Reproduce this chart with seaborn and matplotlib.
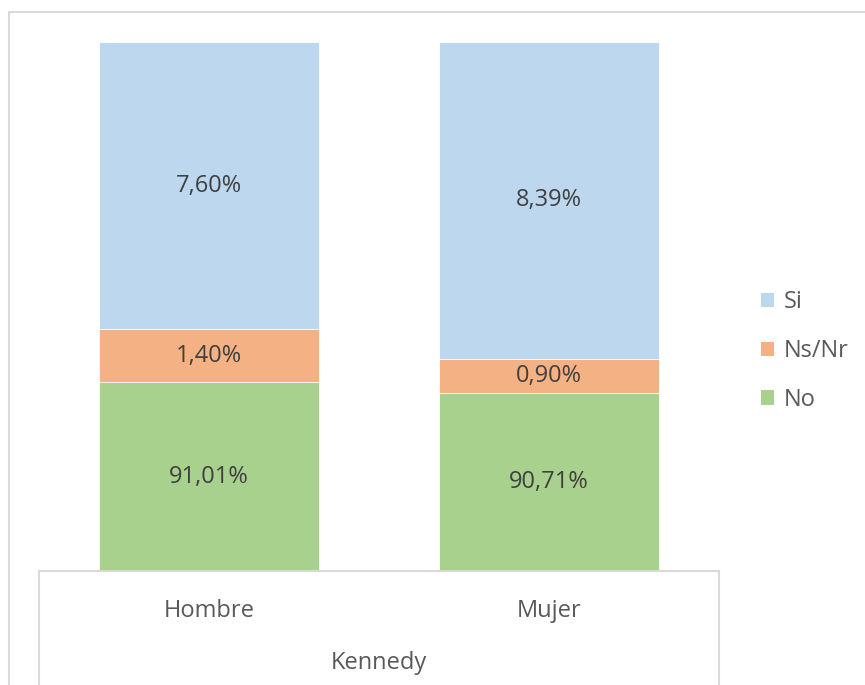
import numpy as np
import pandas as pd
import seaborn as sns
import matplotlib.pyplot as plt
from matplotlib.patches import Patch
from matplotlib.lines import Line2D

# Bar segment heights (share of the bar, %) as drawn, and the labels shown on them
groups = ["Hombre", "Mujer"]
no_vals = [35.7, 33.6]
nsnr_vals = [10.0, 6.5]
si_vals = [54.3, 59.9]
no_labels = ["91,01%", "90,71%"]
nsnr_labels = ["1,40%", "0,90%"]
si_labels = ["7,60%", "8,39%"]
series = ["Si", "Ns/Nr", "No"]
colors = {"Si": "#BDD7EE", "Ns/Nr": "#F4B183", "No": "#A9D18E"}

sns.set_style("white")
plt.rcParams['font.family'] = ['Open Sans', 'DejaVu Sans']

df = pd.DataFrame({"group": groups, "No": no_vals, "Ns/Nr": nsnr_vals, "Si": si_vals})
df["top_ns"] = df["No"] + df["Ns/Nr"]
df["top_si"] = df["top_ns"] + df["Si"]

fig = plt.figure(figsize=(8.65, 6.85), dpi=100)
ax = fig.add_axes([39 / 865, 114 / 685, 680 / 865, 529 / 685])

bar_kw = dict(width=0.647, saturation=1, edgecolor="white", linewidth=0.6, ax=ax)
sns.barplot(data=df, x="group", y="top_si", color=colors["Si"], **bar_kw)
sns.barplot(data=df, x="group", y="top_ns", color=colors["Ns/Nr"], **bar_kw)
sns.barplot(data=df, x="group", y="No", color=colors["No"], **bar_kw)

ax.set_xlim(-0.5, 1.5)
ax.set_ylim(0, df["top_si"].max())
ax.set_yticks([])
ax.set_ylabel("")

lab_color = "#404040"
fs = 17
for i in range(len(groups)):
    ax.text(i, no_vals[i] / 2, no_labels[i], ha="center", va="center", fontsize=fs, color=lab_color)
    ax.text(i, no_vals[i] + nsnr_vals[i] / 2, nsnr_labels[i], ha="center", va="center", fontsize=fs, color=lab_color)
    ax.text(i, df["top_ns"][i] + si_vals[i] / 2, si_labels[i], ha="center", va="center", fontsize=fs, color=lab_color)

ax.set_xticks(range(len(groups)))
ax.set_xticklabels(groups, fontsize=fs, color="#595959")
ax.tick_params(axis="x", length=0, pad=20)
ax.set_xlabel("Kennedy", fontsize=fs, color="#595959", labelpad=20)

for s in ["top", "left", "right"]:
    ax.spines[s].set_visible(False)
ax.spines["bottom"].set_color("#D9D9D9")
ax.spines["bottom"].set_linewidth(1.5)

# category box sides and chart frame
line_kw = dict(color="#D9D9D9", linewidth=1.5)
fig.add_artist(Line2D([39 / 865, 39 / 865], [0, 114 / 685], **line_kw))
fig.add_artist(Line2D([719 / 865, 719 / 865], [0, 114 / 685], **line_kw))
fig.add_artist(Line2D([9 / 865, 9 / 865], [0, 673 / 685], **line_kw))
fig.add_artist(Line2D([9 / 865, 1], [673 / 685, 673 / 685], **line_kw))

handles = [Patch(facecolor=colors[s], edgecolor="none") for s in series]
leg = fig.legend(handles, series, loc="center left", bbox_to_anchor=(761 / 865, 334 / 685),
                 frameon=False, fontsize=fs, handlelength=0.55, handleheight=0.55,
                 handletextpad=0.4, labelspacing=1.05, labelcolor="#595959",
                 borderpad=0, borderaxespad=0)

fig.savefig("out.png", dpi=100)
